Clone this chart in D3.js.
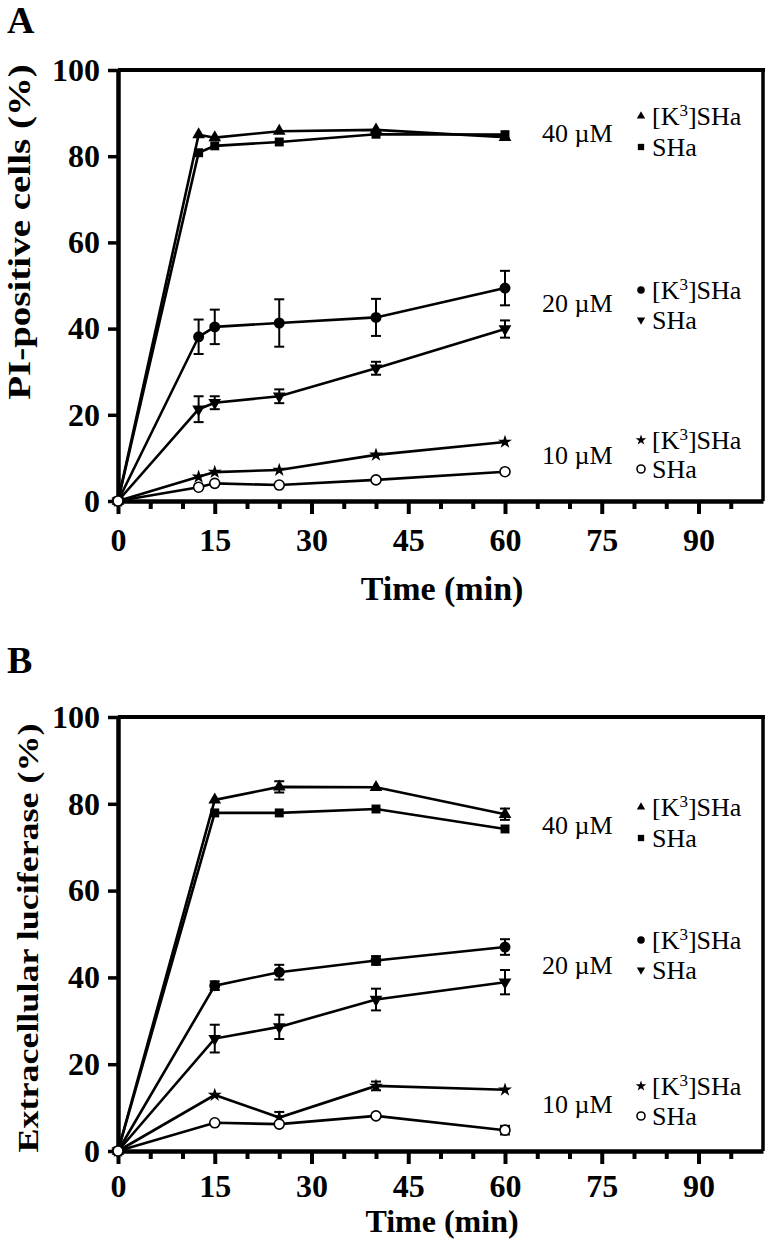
<!DOCTYPE html>
<html><head><meta charset="utf-8">
<script src="https://cdn.jsdelivr.net/npm/d3@7"></script>
<style>body{margin:0;background:#fff} svg{display:block}</style>
</head><body>
<svg id="c" width="768" height="1240"></svg>
<script>
// ---------- data ----------
const xTicksMajor = [0, 15, 30, 45, 60, 75, 90];
const xTicksMinor = [5, 10, 20, 25, 35, 40, 50, 55, 65, 70, 80, 85, 95];
const yTicks = [0, 20, 40, 60, 80, 100];
const concLabels = ["40 µM", "20 µM", "10 µM"];

// Panel A: PI-positive cells (%)
const timesA = [0, 12.5, 15, 25, 40, 60];
const A_K3_40 = [0, 85.0, 84.3, 85.8, 86.1, 84.4];
const A_SHa_40 = [0, 80.8, 82.4, 83.3, 85.1, 85.0];
const A_K3_20 = [0, 38.1, 40.4, 41.3, 42.6, 49.4];
const A_K3_20_err = [0, 4.0, 4.0, 5.5, 4.3, 4.0];
const A_SHa_20 = [0, 21.3, 22.8, 24.3, 30.8, 39.9];
const A_SHa_20_err = [0, 3.0, 1.5, 1.6, 1.5, 2.0];
const A_K3_10 = [0, 5.6, 6.7, 7.2, 10.7, 13.7];
const A_SHa_10 = [0, 3.2, 4.1, 3.7, 4.9, 6.8];

// Panel B: Extracellular luciferase (%)
const timesB = [0, 15, 25, 40, 60];
const B_K3_40 = [0, 80.9, 83.9, 83.8, 77.6];
const B_K3_40_err = [0, 0, 1.3, 0, 1.3];
const B_SHa_40 = [0, 77.9, 77.9, 78.8, 74.2];
const B_K3_20 = [0, 38.1, 41.2, 43.9, 47.0];
const B_K3_20_err = [0, 1.0, 1.7, 1.0, 1.8];
const B_SHa_20 = [0, 25.9, 28.6, 34.9, 38.9];
const B_SHa_20_err = [0, 3.2, 2.8, 2.5, 2.8];
const B_K3_10 = [0, 12.9, 7.7, 15.0, 14.1];
const B_K3_10_err = [0, 0, 1.3, 1.0, 0];
const B_SHa_10 = [0, 6.5, 6.2, 8.1, 4.8];
const B_SHa_10_err = [0, 0, 0, 0, 1.0];

// ---------- drawing ----------
const FONT = "'Liberation Serif','Times New Roman',Times,serif";
const svg = d3.select("#c");

function marker(sel, kind, size) {
  if (kind === "circleOpen") {
    sel.append("circle").attr("r", size).attr("fill", "#fff").attr("stroke", "#000").attr("stroke-width", 1.6);
    return;
  }
  const map = {tri: d3.symbolTriangle, triDown: d3.symbolTriangle, square: d3.symbolSquare, circle: d3.symbolCircle, star: d3.symbolStar};
  sel.append("path")
    .attr("d", d3.symbol(map[kind], size)())
    .attr("transform", kind === "triDown" ? "rotate(180)" : null)
    .attr("fill", "#000");
}
const markerSize = {tri: 70, triDown: 70, square: 80, circle: 95, star: 60, circleOpen: 5};
const legendSize = {tri: 30, triDown: 30, square: 40, circle: 45, star: 35, circleOpen: 4};

function panel(cfg) {
  const g = svg.append("g");
  const x = d3.scaleLinear([0, 100], [118, 763]);
  const y = d3.scaleLinear([0, 100], [cfg.bottom, cfg.top]);

  // frame top & right
  g.append("line").attr("x1", x(0)).attr("x2", x(100) + 2).attr("y1", y(100)).attr("y2", y(100))
    .attr("stroke", "#000").attr("stroke-width", 4);
  g.append("line").attr("x1", x(100)).attr("x2", x(100)).attr("y1", y(100)).attr("y2", y(0))
    .attr("stroke", "#000").attr("stroke-width", 3.5);

  // x axis
  const gx = g.append("g").attr("transform", `translate(0,${y(0)})`)
    .call(d3.axisBottom(x).tickValues(xTicksMajor).tickSize(13).tickSizeOuter(0).tickPadding(cfg.xPad));
  gx.select(".domain").attr("stroke-width", 4.5);
  gx.selectAll(".tick line").attr("stroke-width", 4);
  gx.selectAll(".tick text").attr("font-family", FONT).attr("font-weight", "bold").attr("font-size", 32).attr("fill", "#000");
  const gxm = g.append("g").attr("transform", `translate(0,${y(0)})`)
    .call(d3.axisBottom(x).tickValues(xTicksMinor).tickSize(8).tickSizeOuter(0).tickFormat(""));
  gxm.select(".domain").remove();
  gxm.selectAll(".tick line").attr("stroke-width", 4);

  // y axis
  const gy = g.append("g").attr("transform", `translate(${x(0)},0)`)
    .call(d3.axisLeft(y).tickValues(yTicks).tickSize(10).tickSizeOuter(0).tickPadding(8));
  gy.select(".domain").attr("stroke-width", 4.5);
  gy.selectAll(".tick line").attr("stroke-width", 3.5);
  gy.selectAll(".tick text").attr("font-family", FONT).attr("font-weight", "bold").attr("font-size", 32).attr("fill", "#000");

  // titles
  g.append("text").attr("x", 442).attr("y", cfg.xTitleY).attr("text-anchor", "middle")
    .attr("font-family", FONT).attr("font-weight", "bold").attr("font-size", cfg.xTitleSize).text("Time (min)");
  g.append("text").attr("transform", `translate(${cfg.yTitleX},${cfg.yTitleY}) scale(0.82,1) rotate(-90)`)
    .attr("text-anchor", "middle").attr("font-family", FONT).attr("font-weight", "bold")
    .attr("font-size", cfg.yTitleSize).text(cfg.yTitle);
  g.append("text").attr("x", 7).attr("y", cfg.letterY).attr("font-family", FONT).attr("font-weight", "bold")
    .attr("font-size", 38).text(cfg.letter);

  // lines
  const line = d3.line().x(d => x(d[0])).y(d => y(d[1]));
  cfg.series.forEach(s => {
    const pts = cfg.times.map((t, i) => [t, s.values[i]]);
    g.append("path").attr("d", line(pts)).attr("fill", "none").attr("stroke", "#000").attr("stroke-width", 2.6);
  });
  // error bars
  cfg.series.forEach(s => {
    if (!s.err) return;
    cfg.times.forEach((t, i) => {
      const e = s.err[i];
      if (!e) return;
      const v = s.values[i];
      const eg = g.append("g").attr("stroke", "#000").attr("stroke-width", 2);
      eg.append("line").attr("x1", x(t)).attr("x2", x(t)).attr("y1", y(v - e)).attr("y2", y(v + e));
      eg.append("line").attr("x1", x(t) - 5).attr("x2", x(t) + 5).attr("y1", y(v - e)).attr("y2", y(v - e));
      eg.append("line").attr("x1", x(t) - 5).attr("x2", x(t) + 5).attr("y1", y(v + e)).attr("y2", y(v + e));
    });
  });
  // markers
  cfg.series.forEach(s => {
    cfg.times.forEach((t, i) => {
      const mg = g.append("g").attr("transform", `translate(${x(t)},${y(s.values[i])})`);
      marker(mg, s.kind, markerSize[s.kind]);
    });
  });

  // legend
  cfg.legend.forEach((L, k) => {
    g.append("text").attr("x", 542).attr("y", L.concY).attr("dy", "0.35em")
      .attr("font-family", FONT).attr("font-size", 26).text(concLabels[k]);
    L.items.forEach(it => {
      const mg = g.append("g").attr("transform", `translate(641,${it.y})`);
      marker(mg, it.kind, legendSize[it.kind]);
      const t = g.append("text").attr("x", 652).attr("y", it.y).attr("dy", "0.35em")
        .attr("font-family", FONT).attr("font-size", 26);
      if (it.k3) {
        t.append("tspan").text("[K");
        t.append("tspan").attr("font-size", 17).attr("dy", "-9").text("3");
        t.append("tspan").attr("dy", "9").text("]SHa");
      } else {
        t.text("SHa");
      }
    });
  });
}

panel({
  letter: "A", letterY: 33,
  top: 70, bottom: 501,
  xPad: 14, xTitleY: 600, xTitleSize: 34,
  yTitle: "PI-positive cells (%)", yTitleX: 30, yTitleY: 232, yTitleSize: 39,
  times: timesA,
  series: [
    {kind: "tri", values: A_K3_40},
    {kind: "square", values: A_SHa_40},
    {kind: "circle", values: A_K3_20, err: A_K3_20_err},
    {kind: "triDown", values: A_SHa_20, err: A_SHa_20_err},
    {kind: "star", values: A_K3_10},
    {kind: "circleOpen", values: A_SHa_10}
  ],
  legend: [
    {concY: 133, items: [{kind: "tri", y: 116, k3: true}, {kind: "square", y: 147}]},
    {concY: 303, items: [{kind: "circle", y: 290, k3: true}, {kind: "triDown", y: 320}]},
    {concY: 455, items: [{kind: "star", y: 440, k3: true}, {kind: "circleOpen", y: 469}]}
  ]
});

panel({
  letter: "B", letterY: 673,
  top: 717, bottom: 1151,
  xPad: 10, xTitleY: 1232, xTitleSize: 32,
  yTitle: "Extracellular luciferase (%)", yTitleX: 38, yTitleY: 938, yTitleSize: 36,
  times: timesB,
  series: [
    {kind: "tri", values: B_K3_40, err: B_K3_40_err},
    {kind: "square", values: B_SHa_40},
    {kind: "circle", values: B_K3_20, err: B_K3_20_err},
    {kind: "triDown", values: B_SHa_20, err: B_SHa_20_err},
    {kind: "star", values: B_K3_10, err: B_K3_10_err},
    {kind: "circleOpen", values: B_SHa_10, err: B_SHa_10_err}
  ],
  legend: [
    {concY: 825, items: [{kind: "tri", y: 807, k3: true}, {kind: "square", y: 838}]},
    {concY: 965, items: [{kind: "circle", y: 940, k3: true}, {kind: "triDown", y: 970}]},
    {concY: 1104, items: [{kind: "star", y: 1086, k3: true}, {kind: "circleOpen", y: 1116}]}
  ]
});
</script>
</body></html>
